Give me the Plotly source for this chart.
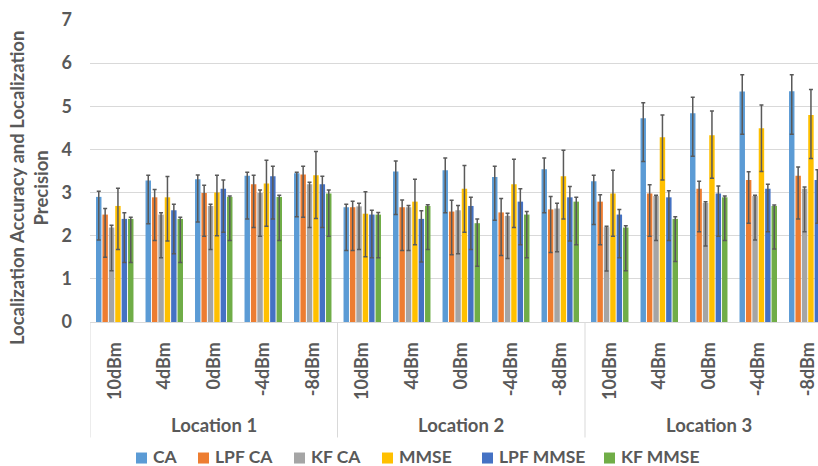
import plotly.graph_objects as go

locations = ["Location 1", "Location 2", "Location 3"]
powers = ["10dBm", "4dBm", "0dBm", "-4dBm", "-8dBm"]
series_names = ["CA", "LPF CA", "KF CA", "MMSE", "LPF MMSE", "KF MMSE"]
colors = ["#5B9BD5", "#ED7D31", "#A5A5A5", "#FFC000", "#4472C4", "#70AD47"]

ca = [2.90, 3.28, 3.31, 3.39, 3.45, 2.66, 3.49, 3.52, 3.36, 3.54, 3.26, 4.72, 4.84, 5.34, 5.35]
lpf_ca = [2.49, 2.89, 2.99, 3.19, 3.42, 2.66, 2.66, 2.56, 2.54, 2.61, 2.79, 2.98, 3.09, 3.29, 3.39]
kf_ca = [2.19, 2.49, 2.69, 2.99, 3.19, 2.68, 2.66, 2.59, 2.46, 2.63, 2.20, 2.92, 2.76, 2.92, 3.09]
mmse = [2.69, 2.89, 3.00, 3.21, 3.40, 2.51, 2.79, 3.09, 3.19, 3.38, 2.98, 4.28, 4.33, 4.49, 4.80]
lpf_mmse = [2.39, 2.59, 3.09, 3.38, 3.19, 2.49, 2.39, 2.69, 2.79, 2.89, 2.49, 2.89, 2.98, 3.09, 3.29]
kf_mmse = [2.39, 2.39, 2.90, 2.90, 2.98, 2.49, 2.69, 2.29, 2.49, 2.79, 2.19, 2.39, 2.89, 2.69, 2.80]

ca_plus = [0.13, 0.12, 0.10, 0.08, 0.02, 0.07, 0.24, 0.28, 0.25, 0.26, 0.14, 0.36, 0.37, 0.39, 0.38]
lpf_ca_plus = [0.14, 0.18, 0.18, 0.21, 0.19, 0.14, 0.17, 0.26, 0.32, 0.30, 0.16, 0.20, 0.17, 0.19, 0.20]
kf_ca_plus = [0.05, 0.04, 0.04, 0.07, 0.05, 0.07, 0.04, 0.11, 0.06, 0.12, 0.02, 0.02, 0.03, 0.02, 0.04]
mmse_plus = [0.41, 0.48, 0.40, 0.54, 0.55, 0.51, 0.52, 0.54, 0.58, 0.60, 0.54, 0.52, 0.56, 0.54, 0.59]
lpf_mmse_plus = [0.14, 0.14, 0.20, 0.23, 0.19, 0.10, 0.19, 0.20, 0.30, 0.25, 0.12, 0.15, 0.17, 0.10, 0.24]
kf_mmse_plus = [0.04, 0.04, 0.02, 0.04, 0.08, 0.05, 0.03, 0.10, 0.07, 0.10, 0.04, 0.05, 0.03, 0.02, 0.05]

ca_minus = [1.00, 1.00, 0.99, 1.00, 1.01, 1.00, 1.00, 0.99, 1.00, 1.01, 1.00, 1.00, 1.00, 0.99, 1.00]
lpf_ca_minus = [0.99, 1.00, 1.00, 1.00, 0.99, 1.00, 1.00, 1.00, 1.00, 1.00, 1.00, 0.99, 1.00, 1.00, 1.00]
kf_ca_minus = [1.00, 1.00, 1.01, 1.00, 1.00, 1.00, 1.00, 1.01, 0.99, 1.00, 1.02, 1.03, 1.00, 1.02, 1.00]
mmse_minus = [1.01, 1.01, 1.00, 0.99, 1.00, 1.00, 1.00, 1.01, 1.00, 0.99, 0.99, 0.99, 1.00, 1.00, 1.01]
lpf_mmse_minus = [1.01, 1.01, 1.01, 0.99, 1.00, 1.00, 1.00, 1.01, 1.00, 1.01, 1.00, 1.00, 0.99, 1.00, 1.00]
kf_mmse_minus = [1.01, 1.01, 1.01, 1.01, 0.99, 1.00, 1.01, 1.00, 1.00, 1.00, 1.00, 0.99, 1.00, 1.00, 1.00]

values = [ca, lpf_ca, kf_ca, mmse, lpf_mmse, kf_mmse]
plus = [ca_plus, lpf_ca_plus, kf_ca_plus, mmse_plus, lpf_mmse_plus, kf_mmse_plus]
minus = [ca_minus, lpf_ca_minus, kf_ca_minus, mmse_minus, lpf_mmse_minus, kf_mmse_minus]

n_cat = len(locations) * len(powers)
xpos = list(range(n_cat))
ticktext = [p for _ in locations for p in powers]

FONT = "Lato"
GRAY = "#595959"
FS = 18.5

fig = go.Figure()
for name, col, v, ep, em in zip(series_names, colors, values, plus, minus):
    fig.add_trace(go.Bar(
        x=xpos, y=v, name=name, marker=dict(color=col, line=dict(width=0)),
        error_y=dict(type="data", symmetric=False, array=ep, arrayminus=em,
                     color=GRAY, thickness=1.5, width=2),
    ))

# plot geometry (pixels): left 90, right edge cut at 818, category width ~49.5
left_px, right_px, top_px, bottom_px = 90, 818, 20.2, 321.7
cat_w = 49.5
x_right = -0.5 + (right_px - left_px) / cat_w
plot_w = right_px - left_px
plot_h = bottom_px - top_px


def px_x(p):
    return (p - left_px) / plot_w


def px_y(p):
    return (bottom_px - p) / plot_h


shapes = []
for b in [-0.5, 4.5, 9.5]:
    shapes.append(dict(type="line", xref="x", yref="paper", x0=b, x1=b,
                       y0=0, y1=px_y(437),
                       line=dict(color="#D9D9D9", width=1)))

annotations = []
for i, loc in enumerate(locations):
    annotations.append(dict(x=i * len(powers) + (len(powers) - 1) / 2, xref="x",
                            y=px_y(425), yref="paper",
                            text=loc, showarrow=False, xanchor="center", yanchor="middle",
                            font=dict(family=FONT, size=FS, color=GRAY, weight="bold")))
annotations.append(dict(x=px_x(29), xref="paper", y=px_y(188), yref="paper",
                        text="Localization Accuracy and Localization<br>Precision",
                        textangle=-90, showarrow=False, xanchor="center", yanchor="middle",
                        font=dict(family=FONT, size=FS, color=GRAY, weight="bold")))

# legend (swatches + text, laid out like the reference)
legend_left_px = [136, 198, 294, 382, 482, 604]
sw = 11
legend_cy = 457.5
for name, col, lx in zip(series_names, colors, legend_left_px):
    shapes.append(dict(type="rect", xref="paper", yref="paper",
                       x0=px_x(lx), x1=px_x(lx + sw),
                       y0=px_y(legend_cy + sw / 2), y1=px_y(legend_cy - sw / 2),
                       fillcolor=col, line=dict(width=0)))
    annotations.append(dict(x=px_x(lx + sw + 5), xref="paper", y=px_y(legend_cy - 1.5), yref="paper",
                            text=name, showarrow=False, xanchor="left", yanchor="middle",
                            borderpad=0,
                            font=dict(family=FONT, size=17.5, color=GRAY, weight="bold")))

fig.update_layout(
    width=818, height=466,
    margin=dict(l=left_px, r=0, t=top_px, b=466 - bottom_px, autoexpand=False),
    paper_bgcolor="white", plot_bgcolor="white",
    barmode="group", bargap=0.224, bargroupgap=0.15,
    font=dict(family=FONT, color=GRAY),
    showlegend=False,
    xaxis=dict(range=[-0.5, x_right], tickmode="array", tickvals=xpos, ticktext=ticktext,
               tickangle=-90, showgrid=False, zeroline=False, showline=True,
               linecolor="#D9D9D9", linewidth=1, ticks="", ticklabelstandoff=12,
               tickfont=dict(family=FONT, size=18, color=GRAY, weight="bold")),
    yaxis=dict(range=[0, 7], dtick=1, showgrid=True, gridcolor="#D9D9D9", gridwidth=1,
               zeroline=False, showline=False, ticks="", ticklabelstandoff=17,
               tickfont=dict(family=FONT, size=18, color=GRAY, weight="bold")),
    shapes=shapes, annotations=annotations,
)

fig.write_html("out.html", config={"displayModeBar": False},
               post_script="document.body.style.margin='0';document.body.style.overflow='hidden';")
